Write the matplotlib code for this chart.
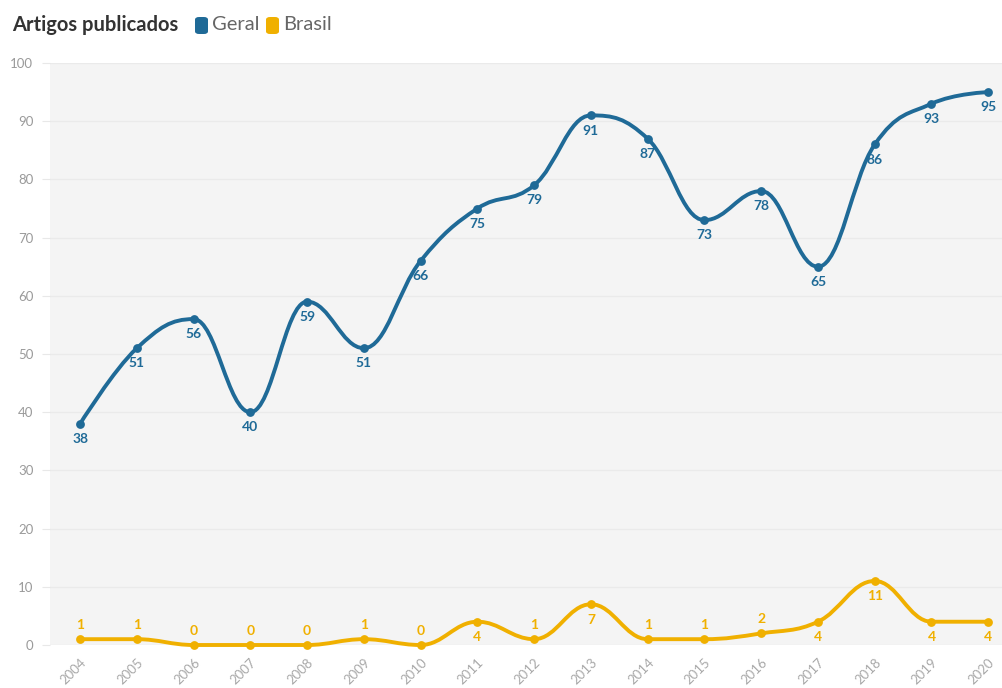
import numpy as np
import matplotlib
matplotlib.use("Agg")
import matplotlib.pyplot as plt
from matplotlib.path import Path
from matplotlib.patches import PathPatch, FancyBboxPatch

plt.rcParams['font.family'] = ['Lato', 'DejaVu Sans']

# data
anos = [2004, 2005, 2006, 2007, 2008, 2009, 2010, 2011, 2012,
        2013, 2014, 2015, 2016, 2017, 2018, 2019, 2020]
geral = [38, 51, 56, 40, 59, 51, 66, 75, 79, 91, 87, 73, 78, 65, 86, 93, 95]
brasil = [1, 1, 0, 0, 0, 1, 0, 4, 1, 7, 1, 1, 2, 4, 11, 4, 4]

AZUL = '#1f6a97'
AMARELO = '#f0b000'


def spline_path(xs, ys, smoothing=1.5):
    # bezier spline like highcharts "spline" series
    n = len(xs)
    denom = smoothing + 1
    left = [(x, y) for x, y in zip(xs, ys)]
    right = [(x, y) for x, y in zip(xs, ys)]
    for i in range(1, n - 1):
        px, py = xs[i], ys[i]
        lx, ly = xs[i - 1], ys[i - 1]
        nx, ny = xs[i + 1], ys[i + 1]
        lcx = (smoothing * px + lx) / denom
        lcy = (smoothing * py + ly) / denom
        rcx = (smoothing * px + nx) / denom
        rcy = (smoothing * py + ny) / denom
        if rcx != lcx:
            corr = (rcy - lcy) * (rcx - px) / (rcx - lcx) + py - rcy
            lcy += corr
            rcy += corr
        if lcy > ly and lcy > py:
            lcy = max(ly, py)
            rcy = 2 * py - lcy
        elif lcy < ly and lcy < py:
            lcy = min(ly, py)
            rcy = 2 * py - lcy
        if rcy > ny and rcy > py:
            rcy = max(ny, py)
            lcy = 2 * py - rcy
        elif rcy < ny and rcy < py:
            rcy = min(ny, py)
            lcy = 2 * py - rcy
        left[i] = (lcx, lcy)
        right[i] = (rcx, rcy)
    verts = [(xs[0], ys[0])]
    codes = [Path.MOVETO]
    for i in range(1, n):
        verts += [right[i - 1], left[i], (xs[i], ys[i])]
        codes += [Path.CURVE4] * 3
    return Path(verts, codes)


fig = plt.figure(figsize=(10.03, 6.88), dpi=100)
ax = fig.add_axes([50 / 1003, 43 / 688, 953 / 1003, 582 / 688])
ax.set_facecolor('#f4f4f4')
ax.set_xlim(2004 - 0.53, 2020 + 0.26)
ax.set_ylim(0, 100)

for serie, cor in [(geral, AZUL), (brasil, AMARELO)]:
    ax.add_patch(PathPatch(spline_path(anos, serie), facecolor='none',
                           edgecolor=cor, lw=2.8, zorder=3, capstyle='round',
                           clip_on=False))
    ax.scatter(anos, serie, s=40, color=cor, zorder=4, linewidths=0,
               clip_on=False)

for x, v in zip(anos, geral):
    ax.annotate(str(v), (x, v), xytext=(0, -11), textcoords='offset points',
                ha='center', va='center', color=AZUL, fontsize=10,
                fontweight='bold', zorder=5)
for x, v in zip(anos, brasil):
    dy = -11 if v >= 4 else 10
    ax.annotate(str(v), (x, v), xytext=(0, dy), textcoords='offset points',
                ha='center', va='center', color=AMARELO, fontsize=10,
                fontweight='bold', zorder=5)

ax.set_yticks(range(0, 101, 10))
ax.set_xticks(anos)
ax.set_xticklabels([str(a) for a in anos], rotation=45, ha='right',
                   va='top', rotation_mode='anchor')
ax.tick_params(axis='y', length=6, color='#e8e8e8', labelcolor='#9a9a9a',
               labelsize=9.5, pad=6)
ax.tick_params(axis='x', length=0, labelcolor='#a8a8a8', labelsize=9.5, pad=8)
ax.grid(axis='y', color='#eaeaea', lw=1)
ax.set_axisbelow(True)
for s in ax.spines.values():
    s.set_visible(False)

# titulo e legenda
fig.text(12 / 1003, 1 - 25 / 688, 'Artigos publicados', fontsize=14.5,
         fontweight='bold', color='#333333', va='center', ha='left')
for x0, cor, nome in [(195, AZUL, 'Geral'), (266, AMARELO, 'Brasil')]:
    fig.patches.append(FancyBboxPatch(
        ((x0) / 1003, 1 - 34 / 688), 13 / 1003, 17 / 688,
        boxstyle='round,pad=0,rounding_size=0.004', transform=fig.transFigure,
        facecolor=cor, edgecolor='none'))
    fig.text((x0 + 17) / 1003, 1 - 25 / 688, nome, fontsize=14.5,
             color='#666666', va='center', ha='left')

fig.savefig('out.png', dpi=100)
